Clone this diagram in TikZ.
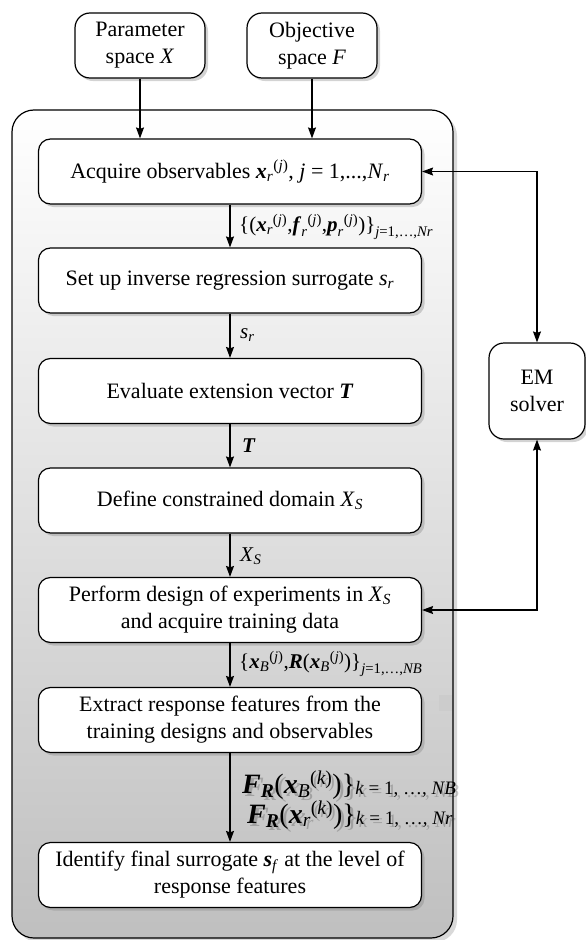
\documentclass[tikz,border=0pt]{standalone}
\usepackage{amsmath}
\usepackage{fontspec}
\setmainfont{Liberation Serif}
\usetikzlibrary{arrows.meta,shadows,calc}
\newcommand{\myi}[1]{\textit{#1}}
\newcommand{\myb}[1]{\textbf{\textit{#1}}}
\newcommand{\subtxt}[1]{\raisebox{-1.5bp}{\fontsize{19bp}{19bp}\selectfont #1}}
\newcommand{\fRone}{$\myb{F}_{\myb{R}}\textup{(}\myb{x}_{\myi{B}}{}^{\textup{(}\myi{k}\textup{)}}\textup{)\}}$\subtxt{\myi{k} = 1, …, \myi{NB}}}
\newcommand{\fRtwo}{$\myb{F}_{\myb{R}}\textup{(}\myb{x}_{\myi{r}}{}^{\textup{(}\myi{k}\textup{)}}\textup{)\}}$\subtxt{\myi{k} = 1, …, \myi{Nr}}}
\tikzset{
  boxbase/.style={draw, line width=1.2bp, fill=white, align=center,
    font=\fontsize{22bp}{27bp}\selectfont, inner sep=2bp,
    drop shadow={opacity=0.35, shadow xshift=3bp, shadow yshift=-3bp}},
  mainbox/.style={boxbase, rounded corners=12bp, minimum width=383bp, minimum height=65bp},
  topbox/.style={boxbase, rounded corners=15bp, minimum width=130bp, minimum height=65bp},
  embox/.style={boxbase, rounded corners=15bp, minimum width=96bp, minimum height=96bp},
  conn/.style={line width=1.2bp, >={Stealth[length=11bp,width=8bp,inset=1.5bp]}},
  lab/.style={anchor=west, inner sep=0pt, font=\fontsize{21bp}{25bp}\selectfont},
  flab/.style={anchor=base west, inner sep=0pt, font=\fontsize{28bp}{29bp}\selectfont}
}
\begin{document}
\begin{tikzpicture}[x=1bp,y=-1bp]
\useasboundingbox (0,0) rectangle (586,940);
% container
\node[draw, line width=1.2bp, rounded corners=22bp, minimum width=441bp, minimum height=828bp,
  top color=white, bottom color=gray!50, inner sep=0pt,
  drop shadow={opacity=0.3, shadow xshift=4bp, shadow yshift=-4bp}] (cont) at (232.5,524) {};
\fill[gray!40] (439,695) rectangle (452,711);
% top boxes
\node[topbox] (P) at (140,45.5) {Parameter\\space \myi{X}};
\node[topbox] (O) at (312,45.5) {Objective\\space \myi{F}};
% main boxes
\node[mainbox] (B1) at (230,171.5) {Acquire observables $\myb{x}_{\myi{r}}{}^{\textup{(}\myi{j}\textup{)}}$, \myi{j} = 1,...,\myi{N}\textsubscript{\myi{r}}};
\node[mainbox] (B2) at (230,280.5) {Set up inverse regression surrogate \myi{s}\textsubscript{\myi{r}}};
\node[mainbox] (B3) at (230,391) {Evaluate extension vector \myb{T}};
\node[mainbox] (B4) at (230,500.5) {Define constrained domain \myi{X}\textsubscript{\myi{S}}};
\node[mainbox] (B5) at (230,610) {Perform design of experiments in \myi{X}\textsubscript{\myi{S}}\\and acquire training data};
\node[mainbox] (B6) at (230,720) {Extract response features from the\\training designs and observables};
\node[mainbox] (B7) at (230,875) {Identify final surrogate \myb{s}\textsubscript{\myi{f}} at the level of\\response features};
% EM solver
\node[embox] (EM) at (537,391) {EM\\solver};
% connectors
\draw[conn,->] (P.south) -- (P.south |- B1.north);
\draw[conn,->] (O.south) -- (O.south |- B1.north);
\draw[conn,->] (B1) -- (B2);
\draw[conn,->] (B2) -- (B3);
\draw[conn,->] (B3) -- (B4);
\draw[conn,->] (B4) -- (B5);
\draw[conn,->] (B5) -- (B6);
\draw[conn,->] (B6) -- (B7);
\draw[conn,<->] (B1.east) -| (EM.north);
\draw[conn,<->] (B5.east) -| (EM.south);
% labels
\node[lab] (L1) at (239,227) {$\textup{\{(}\myb{x}_{\myi{r}}{}^{\textup{(}\myi{j}\textup{)}}\textup{,}\myb{f}_{\myi{r}}{}^{\textup{(}\myi{j}\textup{)}}\textup{,}\myb{p}_{\myi{r}}{}^{\textup{(}\myi{j}\textup{)}}\textup{)\}}_{\myi{j}\textup{=1,…,}\myi{Nr}}$};
\node[lab] (L2) at (240,335) {\myi{s}\textsubscript{\myi{r}}};
\node[lab] (L3) at (242,446) {\myb{T}};
\node[lab] (L4) at (240,556) {\myi{X}\textsubscript{\myi{S}}};
\node[lab] (L5) at (239,664) {$\textup{\{}\myb{x}_{\myi{B}}{}^{\textup{(}\myi{j}\textup{)}}\textup{,}\myb{R}\textup{(}\myb{x}_{\myi{B}}{}^{\textup{(}\myi{j}\textup{)}}\textup{)\}}_{\myi{j}\textup{=1,…,}\myi{NB}}$};
% F labels with soft shadow
\node[flab, opacity=0.2] at (245,796) {\fRone};
\node[flab, opacity=0.2] at (250,826) {\fRtwo};
\node[flab] (L6) at (242,793) {\fRone};
\node[flab] (L7) at (247,823) {\fRtwo};
\end{tikzpicture}
\end{document}
